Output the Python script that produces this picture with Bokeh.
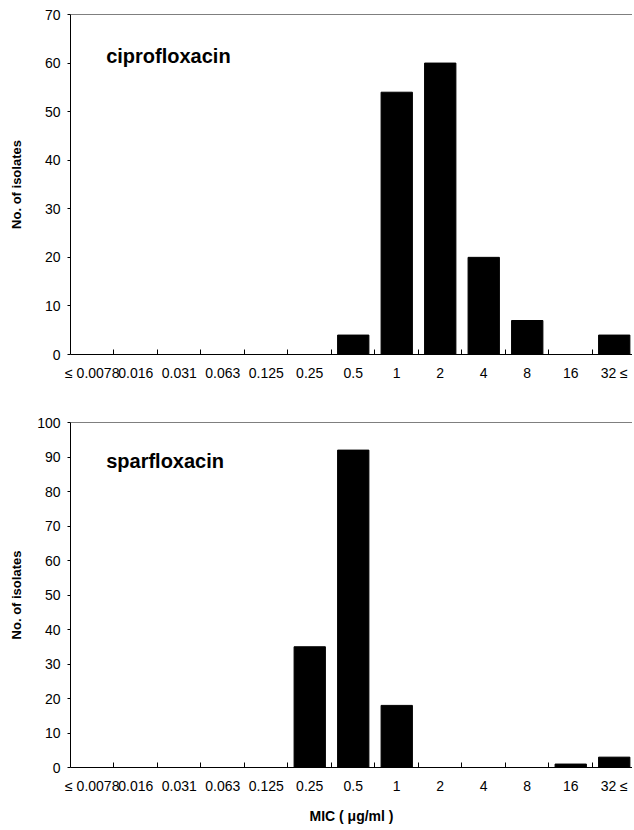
from bokeh.plotting import figure
from bokeh.models import FixedTicker, Span, Label
from bokeh.layouts import column
from bokeh.embed import file_html
from bokeh.resources import INLINE

# ---- data ----
mic_labels = ["\u2264 0.0078", "0.016", "0.031", "0.063", "0.125", "0.25",
              "0.5", "1", "2", "4", "8", "16", "32 \u2264"]
cipro_counts = [0, 0, 0, 0, 0, 0, 4, 54, 60, 20, 7, 0, 4]
sparfl_counts = [0, 0, 0, 0, 0, 35, 92, 18, 0, 0, 0, 1, 3]
cipro_ticks = [0, 10, 20, 30, 40, 50, 60, 70]
sparfl_ticks = [0, 10, 20, 30, 40, 50, 60, 70, 80, 90, 100]

FONT = "Liberation Sans"
n = len(mic_labels)
centers = [i + 0.5 for i in range(n)]
bounds = [i for i in range(1, n)]


def make_panel(counts, yticks, name, name_y, height, mb_top, mb_bottom,
               ylab_standoff, xlabel=None):
    p = figure(width=632, height=height, output_backend="svg",
               toolbar_location=None, x_range=(0, 12.92),
               y_range=(0, yticks[-1]), min_border_left=70,
               min_border_right=0, min_border_top=mb_top,
               min_border_bottom=mb_bottom)
    p.outline_line_color = None
    p.grid.visible = False
    p.background_fill_color = "white"

    p.vbar(x=centers, top=counts, width=0.72, bottom=0,
           fill_color="black", line_color="black")

    # top border line
    p.add_layout(Span(location=yticks[-1], dimension="width",
                      line_color="black", line_width=1))

    xa = p.xaxis[0]
    xa.ticker = FixedTicker(ticks=centers, minor_ticks=bounds)
    xa.major_label_overrides = {c: lab for c, lab in zip(centers, mic_labels)}
    xa.major_tick_line_color = None
    xa.minor_tick_in = 5
    xa.minor_tick_out = 0
    xa.minor_tick_line_color = "black"
    xa.axis_line_color = "black"
    xa.major_label_text_font = FONT
    xa.major_label_text_font_size = "14px"
    xa.major_label_text_color = "black"
    xa.major_label_standoff = 4
    if xlabel:
        xa.axis_label = xlabel
        xa.axis_label_text_font = FONT
        xa.axis_label_text_font_style = "bold"
        xa.axis_label_text_font_size = "14px"
        xa.axis_label_text_color = "black"
        xa.axis_label_standoff = 11

    ya = p.yaxis[0]
    ya.ticker = FixedTicker(ticks=yticks)
    ya.minor_tick_line_color = None
    ya.major_tick_in = 0
    ya.major_tick_out = 3
    ya.major_tick_line_color = "black"
    ya.axis_line_color = "black"
    ya.major_label_text_font = FONT
    ya.major_label_text_font_size = "14px"
    ya.major_label_text_color = "black"
    ya.major_label_standoff = 7
    ya.axis_label = "No. of isolates"
    ya.axis_label_text_font = FONT
    ya.axis_label_text_font_style = "bold"
    ya.axis_label_text_font_size = "13px"
    ya.axis_label_text_color = "black"
    ya.axis_label_standoff = ylab_standoff

    p.add_layout(Label(x=0.82, y=name_y, text=name, text_font=FONT,
                       text_font_style="bold", text_font_size="20px",
                       text_baseline="middle", text_color="black"))
    return p


p1 = make_panel(cipro_counts, cipro_ticks, "ciprofloxacin", 61.4,
                height=384, mb_top=14, mb_bottom=30, ylab_standoff=18)
p2 = make_panel(sparfl_counts, sparfl_ticks, "sparfloxacin", 88.8,
                height=444, mb_top=38, mb_bottom=61, ylab_standoff=10,
                xlabel="MIC ( \u03bcg/ml )")

layout = column(p1, p2, spacing=0)
open("out.html", "w").write(file_html(layout, INLINE))
